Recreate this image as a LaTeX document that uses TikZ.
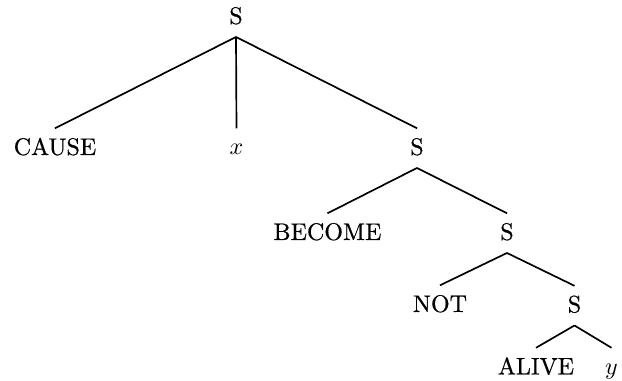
\documentclass[tikz,border=0pt]{standalone}
\usepackage{fontspec}
\newfontfamily\treefont[FakeBold=0.6]{Latin Modern Roman}
\begin{document}
\begin{tikzpicture}[x=0.416pt,y=-0.416pt,
  lab/.style={anchor=base,inner sep=0pt,outer xsep=0pt,outer ysep=5.4pt,
    text height=5.7pt,text depth=0pt,font=\fontsize{10}{12}\selectfont\treefont},
  edge/.style={line width=0.7pt}]
\useasboundingbox (0,0) rectangle (622,381);
\node[lab] (r) at (236,24) {S};
\node[lab] (cause) at (55,155) {CAUSE};
\node[lab] (x) at (236.5,155) {$x$};
\node[lab] (s2) at (417,155) {S};
\node[lab] (become) at (327.5,240) {BECOME};
\node[lab] (s3) at (507,240) {S};
\node[lab] (not) at (440,312) {NOT};
\node[lab] (s4) at (574.5,312.5) {S};
\node[lab] (alive) at (536,374.5) {ALIVE};
\node[lab] (y) at (611.5,374.5) {$y$};
\draw[edge] (r.south) -- (cause.north);
\draw[edge] (r.south) -- (x.north);
\draw[edge] (r.south) -- (s2.north);
\draw[edge] (s2.south) -- (become.north);
\draw[edge] (s2.south) -- (s3.north);
\draw[edge] (s3.south) -- (not.north);
\draw[edge] (s3.south) -- (s4.north);
\draw[edge] (s4.south) -- (alive.north);
\draw[edge] (s4.south) -- (y.north);
\end{tikzpicture}
\end{document}
